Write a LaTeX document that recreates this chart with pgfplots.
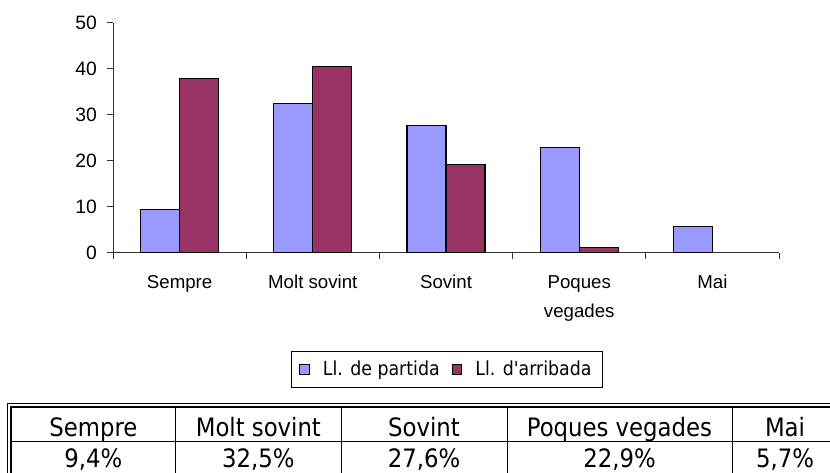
\documentclass[border=0pt]{standalone}
\usepackage{pgfplots}
\pgfplotsset{compat=1.18}
\usepackage{fontspec}
\setmainfont{Liberation Sans}
\newfontfamily\tah{DejaVu Sans Condensed}
\definecolor{cblue}{HTML}{9999FF}
\definecolor{cred}{HTML}{993366}
\begin{document}
\begin{tikzpicture}
\path[use as bounding box] (0pt,0pt) rectangle (622.5pt,-354pt);
\begin{scope}[x=0.75pt,y=-0.75pt]
\clip (0,0) rectangle (830,472);
\draw[line width=0.75pt] (7.3,480) -- (7.3,403.3) -- (840,403.3);
\draw[line width=1.9pt] (11,480) -- (11,407) -- (840,407);
\draw[line width=0.75pt] (11,441.5) -- (840,441.5);
\foreach \x in {175.7,341,507,732} \draw[line width=0.75pt] (\x,407) -- (\x,480);
\begin{scope}[every node/.style={anchor=base, inner sep=0pt, font=\tah\fontsize{19}{22}\selectfont}]
\node at (93.4,436.7) {Sempre};
\node at (258.4,436.7) {Molt sovint};
\node at (424,436.7) {Sovint};
\node at (619.5,436.7) {Poques vegades};
\node at (785,436.7) {Mai};
\node at (93.4,467) {9,4\%};
\node at (258.4,467) {32,5\%};
\node at (424,467) {27,6\%};
\node at (619.5,467) {22,9\%};
\node at (785,467) {5,7\%};
\end{scope}
\end{scope}
\begin{axis}[
  at={(84.75pt,-189.525pt)}, anchor=south west,
  scale only axis, width=499.5pt, height=172.5pt,
  xmin=-0.5, xmax=4.5, ymin=0, ymax=50,
  axis x line*=bottom, axis y line*=left,
  axis line style={-, draw=black!80, line width=0.75pt},
  tick align=outside, major tick length=4.5pt,
  tick style={draw=black!80, line width=0.75pt},
  xtick={-0.5,0.5,1.5,2.5,3.5,4.5},
  x tick label as interval,
  xticklabels={Sempre,Molt sovint,Sovint,{Poques\\vegades},Mai},
  xticklabel style={align=center, font=\fontsize{14}{22}\selectfont, yshift=-9pt},
  ytick={0,10,20,30,40,50},
  yticklabel style={font=\fontsize{14.5}{17}\selectfont, xshift=-4pt},
  /pgf/number format/assume math mode=true,
  ybar=0pt, bar width=29.25pt,
  legend style={at={(0.501,-0.508)}, anchor=center, legend columns=2,
    draw=black, line width=0.75pt, font=\tah\fontsize{14.5}{17}\selectfont,
    inner xsep=6pt, inner ysep=5pt,
    /tikz/every even column/.append style={column sep=7pt},
    /tikz/every odd column/.append style={column sep=8pt}},
  legend image code/.code={\draw[#1, draw=black, line width=0.75pt] (0pt,-4pt) rectangle (7pt,4pt);},
]
\addplot[fill=cblue, draw=black, line width=0.9pt] coordinates {(0,9.4) (1,32.5) (2,27.6) (3,22.9) (4,5.7)};
\addplot[fill=cred, draw=black, line width=0.9pt] coordinates {(0,37.8) (1,40.4) (2,19.1) (3,1.2)};
\legend{Ll. de partida, Ll. d'arribada}
\end{axis}
\end{tikzpicture}
\end{document}
